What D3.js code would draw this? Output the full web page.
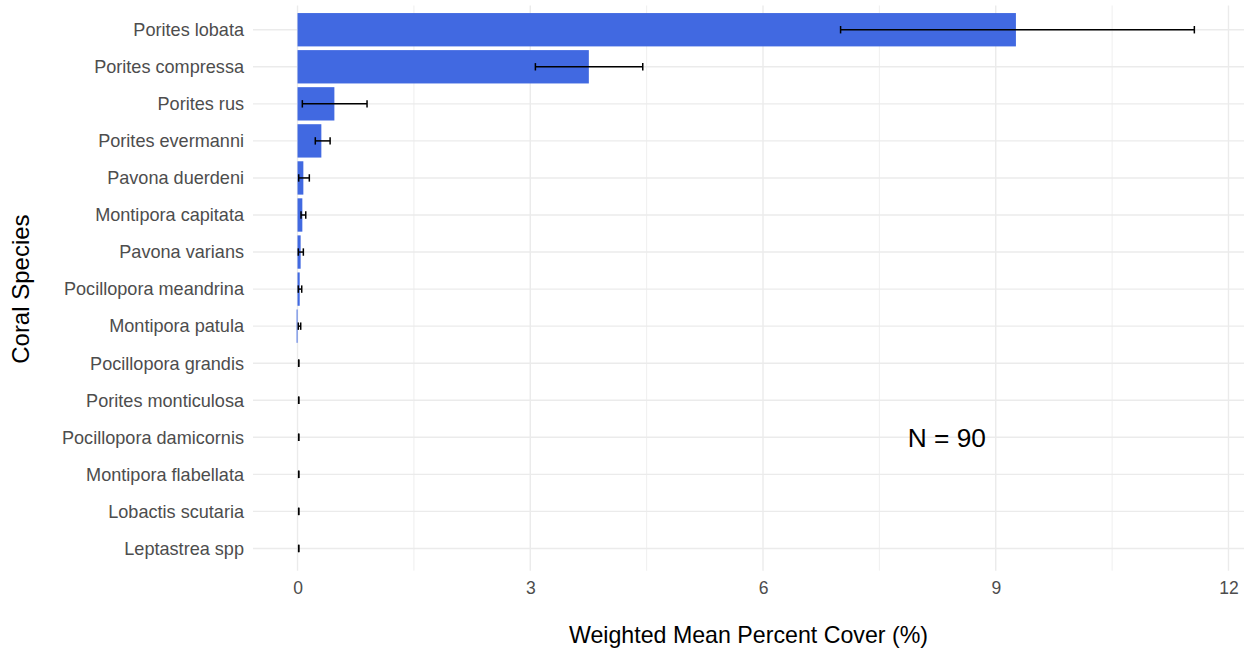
<!DOCTYPE html>
<html>
<head>
<meta charset="utf-8">
<script src="https://cdn.jsdelivr.net/npm/d3@7"></script>
<style>
  html, body { margin: 0; padding: 0; background: #fff; }
  svg { display: block; font-family: "Liberation Sans", Arial, sans-serif; }
</style>
</head>
<body>
<svg id="chart" width="1244" height="649"></svg>
<script>
// ---- data ----
const species = [
  "Porites lobata", "Porites compressa", "Porites rus", "Porites evermanni",
  "Pavona duerdeni", "Montipora capitata", "Pavona varians", "Pocillopora meandrina",
  "Montipora patula", "Pocillopora grandis", "Porites monticulosa",
  "Pocillopora damicornis", "Montipora flabellata", "Lobactis scutaria", "Leptastrea spp"
];
const meanCover = [9.26, 3.755, 0.475, 0.307, 0.075, 0.062, 0.04, 0.028, -0.012, 0, 0, 0, 0, 0, 0];
const errLower  = [7.00, 3.066, 0.062, 0.229, 0.015, 0.045, 0.01, 0.01, 0.01, 0.015, 0.015, 0.015, 0.015, 0.015, 0.015];
const errUpper  = [11.56, 4.45, 0.896, 0.42, 0.152, 0.106, 0.075, 0.054, 0.041, 0.015, 0.015, 0.015, 0.015, 0.015, 0.015];
const xTicks = [0, 3, 6, 9, 12];
const xMinorTicks = [1.5, 4.5, 7.5, 10.5];
const annotationText = "N = 90";
const annotationX = 8.37;
const annotationCategory = "Pocillopora damicornis";
const xTitle = "Weighted Mean Percent Cover (%)";
const yTitle = "Coral Species";
const xDomain = [-0.574, 12.2];

// ---- layout ----
const svg = d3.select("#chart");
const panel = { left: 253, right: 1244, top: 7.5, bottom: 570.7 };

const x = d3.scaleLinear().domain(xDomain).range([panel.left, panel.right]);
const y = d3.scalePoint().domain(species).range([panel.top, panel.bottom]).padding(0.6);
const step = y.step();
const barH = step * 0.9;
const capH = step * 0.2;

const grid = svg.append("g");
grid.selectAll("line.h").data(species).join("line")
  .attr("x1", panel.left).attr("x2", panel.right)
  .attr("y1", d => y(d)).attr("y2", d => y(d))
  .attr("stroke", "#ebebeb").attr("stroke-width", 1.4);
grid.selectAll("line.vm").data(xMinorTicks).join("line")
  .attr("x1", d => x(d)).attr("x2", d => x(d))
  .attr("y1", panel.top - 2).attr("y2", panel.bottom)
  .attr("stroke", "#ebebeb").attr("stroke-width", 0.8);
grid.selectAll("line.v").data(xTicks).join("line")
  .attr("x1", d => x(d)).attr("x2", d => x(d))
  .attr("y1", panel.top - 2).attr("y2", panel.bottom)
  .attr("stroke", "#ebebeb").attr("stroke-width", 1.4);

const rows = species.map((s, i) => ({ s, v: meanCover[i], lo: errLower[i], hi: errUpper[i] }));

svg.append("g").selectAll("rect").data(rows).join("rect")
  .attr("x", d => Math.min(x(0), x(d.v)))
  .attr("width", d => Math.abs(x(d.v) - x(0)))
  .attr("y", d => y(d.s) - barH / 2)
  .attr("height", barH)
  .attr("fill", "#4169E1");

const eb = svg.append("g").attr("stroke", "#000").attr("stroke-width", 1.5).attr("fill", "none");
eb.selectAll("line.bar").data(rows).join("line")
  .attr("x1", d => x(d.lo)).attr("x2", d => x(d.hi))
  .attr("y1", d => y(d.s)).attr("y2", d => y(d.s));
eb.selectAll("line.capl").data(rows).join("line")
  .attr("x1", d => x(d.lo)).attr("x2", d => x(d.lo))
  .attr("y1", d => y(d.s) - capH / 2).attr("y2", d => y(d.s) + capH / 2);
eb.selectAll("line.capr").data(rows).join("line")
  .attr("x1", d => x(d.hi)).attr("x2", d => x(d.hi))
  .attr("y1", d => y(d.s) - capH / 2).attr("y2", d => y(d.s) + capH / 2);

const xAxis = d3.axisBottom(x).tickValues(xTicks).tickSize(0).tickPadding(0).tickFormat(d3.format("d"));
const gx = svg.append("g").attr("transform", `translate(0, ${panel.bottom + 11})`).call(xAxis);
gx.select(".domain").remove();
gx.selectAll("text").attr("fill", "#4d4d4d").attr("font-size", "17.5px")
  .attr("font-family", "'Liberation Sans', Arial, sans-serif");

const yAxis = d3.axisLeft(y).tickSize(0).tickPadding(0);
const gy = svg.append("g").attr("transform", `translate(${panel.left - 9}, 0)`).call(yAxis);
gy.select(".domain").remove();
gy.selectAll("text").attr("fill", "#4d4d4d").attr("font-size", "18.1px")
  .attr("font-family", "'Liberation Sans', Arial, sans-serif");

svg.append("text")
  .attr("x", (panel.left + panel.right) / 2).attr("y", 643)
  .attr("text-anchor", "middle").attr("font-size", "23.2px").attr("fill", "#000")
  .text(xTitle);
svg.append("text")
  .attr("transform", `translate(29, ${(panel.top + panel.bottom) / 2}) rotate(-90)`)
  .attr("text-anchor", "middle").attr("font-size", "24px").attr("fill", "#000")
  .text(yTitle);

svg.append("text")
  .attr("x", x(annotationX)).attr("y", y(annotationCategory))
  .attr("dy", "0.36em")
  .attr("text-anchor", "middle").attr("font-size", "26.3px").attr("fill", "#000")
  .text(annotationText);
</script>
</body>
</html>
